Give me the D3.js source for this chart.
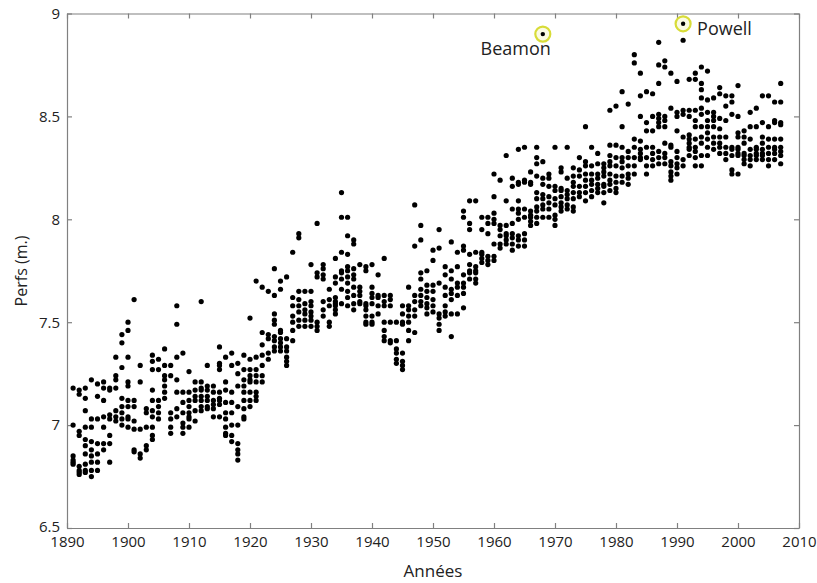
<!DOCTYPE html>
<html>
<head>
<meta charset="utf-8">
<script src="https://cdn.jsdelivr.net/npm/d3@7"></script>
<style>
  body { margin: 0; background: #fff; }
  text { font-family: "Open Sans", sans-serif; fill: #222; }
</style>
</head>
<body>
<svg id="chart"></svg>
<script>
// top performances per year (long jump, m.)
const firstYear = 1891
const perfs = [
  [7.18,7.00,6.85,6.83,6.82,6.81],
  [7.17,7.15,6.97,6.95,6.80,6.78,6.77,6.76],
  [7.18,7.13,7.07,6.99,6.93,6.90,6.86,6.81,6.78,6.77],
  [7.22,7.03,6.99,6.92,6.88,6.85,6.82,6.78,6.75],
  [7.20,7.14,7.03,6.91,6.86,6.82,6.78],
  [7.21,7.18,7.12,7.04,6.99,6.91,6.88],
  [7.18,7.17,7.05,7.03,6.95,6.91,6.82],
  [7.33,7.24,7.22,7.18,7.07,7.04,7.02],
  [7.44,7.40,7.28,7.13,7.09,7.06,7.03,7.00],
  [7.50,7.46,7.33,7.21,7.19,7.12,7.09,7.04,7.03,6.99],
  [7.61,7.12,7.09,7.02,6.98,6.88,6.87],
  [7.29,7.21,6.98,6.86,6.84],
  [7.08,7.06,6.99,6.90,6.88],
  [7.34,7.31,7.27,7.17,7.12,7.07,7.04,6.99,6.95,6.93],
  [7.32,7.27,7.12,7.09,7.06,7.03],
  [7.37,7.29,7.24,7.22,7.19,7.16,7.13],
  [7.29,7.24,7.06,7.03,6.99,6.96],
  [7.58,7.49,7.33,7.22,7.16,7.08,7.04],
  [7.35,7.16,7.11,7.06,7.01,6.99,6.96],
  [7.26,7.16,7.12,7.09,7.06,7.04,7.03,6.99],
  [7.21,7.17,7.14,7.12,7.07,7.02],
  [7.60,7.21,7.18,7.17,7.14,7.12,7.09,7.07],
  [7.29,7.19,7.17,7.14,7.12,7.09,7.08],
  [7.19,7.16,7.12,7.10,7.08,7.04],
  [7.38,7.30,7.29,7.27,7.16,7.13,7.12,7.10,7.04],
  [7.33,7.21,7.17,7.11,7.06,7.03,6.99,6.96,6.95],
  [7.35,7.29,7.16,7.11,7.06,7.00,6.95,6.92],
  [7.30,7.25,7.19,7.09,7.00,6.91,6.88,6.86,6.83],
  [7.34,7.27,7.22,7.19,7.16,7.12,7.08,7.04,7.03],
  [7.52,7.32,7.27,7.24,7.22,7.21,7.16,7.12,7.09],
  [7.70,7.33,7.27,7.24,7.21,7.16,7.14,7.12],
  [7.67,7.45,7.39,7.34,7.29,7.24,7.21],
  [7.65,7.44,7.42,7.35,7.32],
  [7.76,7.63,7.54,7.51,7.49,7.43,7.41,7.38,7.36],
  [7.70,7.66,7.46,7.45,7.42,7.40,7.38,7.36],
  [7.72,7.42,7.38,7.36,7.33,7.31,7.29],
  [7.84,7.62,7.58,7.53,7.50,7.46,7.41],
  [7.93,7.91,7.65,7.61,7.58,7.55,7.51,7.48],
  [7.65,7.59,7.56,7.54,7.51,7.48],
  [7.78,7.65,7.60,7.58,7.55,7.53,7.51,7.48],
  [7.98,7.74,7.72,7.50,7.48,7.46],
  [7.78,7.76,7.73,7.71,7.60,7.56,7.53],
  [7.66,7.61,7.58,7.50,7.48],
  [7.81,7.72,7.69,7.62,7.60,7.59,7.58,7.56,7.54],
  [8.13,8.01,7.84,7.75,7.74,7.71,7.66,7.59],
  [8.01,7.92,7.83,7.77,7.75,7.72,7.69,7.65,7.62,7.58],
  [7.90,7.88,7.76,7.73,7.71,7.67,7.63,7.59,7.56],
  [7.78,7.67,7.65,7.63,7.60,7.59],
  [7.77,7.75,7.59,7.58,7.56,7.53,7.50,7.49],
  [7.78,7.67,7.64,7.62,7.59,7.53,7.50,7.49],
  [7.73,7.63,7.62,7.58,7.54],
  [7.81,7.63,7.60,7.58,7.50,7.46,7.43,7.41],
  [7.63,7.61,7.58,7.50,7.41,7.40],
  [7.50,7.41,7.37,7.35,7.32,7.30],
  [7.58,7.54,7.50,7.49,7.35,7.31,7.29,7.27],
  [7.67,7.58,7.56,7.53,7.50,7.46,7.41],
  [8.07,7.87,7.63,7.60,7.56,7.53,7.45],
  [7.97,7.90,7.74,7.71,7.66,7.63,7.60,7.58],
  [7.75,7.68,7.65,7.62,7.59,7.57,7.54],
  [7.85,7.80,7.68,7.65,7.61,7.58,7.55],
  [7.95,7.86,7.69,7.54,7.52,7.49,7.46],
  [7.77,7.73,7.67,7.63,7.58,7.55,7.53],
  [7.89,7.75,7.71,7.66,7.64,7.61,7.54,7.43],
  [7.84,7.77,7.69,7.67,7.63,7.54],
  [8.04,8.01,7.87,7.85,7.73,7.69,7.67,7.64,7.57],
  [8.09,7.98,7.95,7.83,7.78,7.75,7.74,7.71],
  [8.09,7.84,7.77,7.75,7.74,7.71,7.69],
  [8.01,7.95,7.84,7.83,7.81,7.79],
  [8.01,7.98,7.93,7.82,7.80,7.78],
  [8.22,8.11,8.03,8.00,7.98,7.88,7.82,7.80],
  [8.19,7.97,7.95,7.92,7.88,7.86],
  [8.31,8.09,7.97,7.93,7.92,7.90,7.88],
  [8.20,8.16,8.05,7.98,7.93,7.91,7.88,7.85],
  [8.34,8.18,8.17,8.09,8.05,8.03,8.00,7.92,7.90,7.87],
  [8.35,8.19,8.18,8.05,8.01,7.93,7.90,7.87],
  [8.23,8.18,8.17,8.04,8.02,8.01,7.99,7.97],
  [8.35,8.30,8.27,8.21,8.13,8.10,8.06,8.04,8.01,7.98],
  [8.28,8.20,8.17,8.12,8.10,8.07,8.05,8.01],
  [8.22,8.20,8.16,8.11,8.08,8.05,8.01],
  [8.35,8.16,8.14,8.10,8.07,8.02,8.00,7.97],
  [8.25,8.23,8.15,8.14,8.11,8.08,8.06,8.04],
  [8.35,8.20,8.14,8.12,8.10,8.07,8.05],
  [8.25,8.21,8.18,8.16,8.13,8.10,8.06,8.04],
  [8.30,8.24,8.21,8.16,8.13,8.11],
  [8.45,8.28,8.26,8.22,8.19,8.16,8.13,8.09],
  [8.35,8.26,8.22,8.19,8.17,8.14,8.11],
  [8.32,8.27,8.22,8.20,8.17,8.15,8.13],
  [8.27,8.25,8.23,8.21,8.17,8.16,8.13,8.08],
  [8.53,8.36,8.31,8.28,8.26,8.22,8.19,8.17,8.14],
  [8.55,8.36,8.30,8.26,8.21,8.18,8.15,8.13],
  [8.62,8.45,8.35,8.30,8.28,8.25,8.21,8.18],
  [8.56,8.33,8.30,8.26,8.22,8.20,8.17],
  [8.80,8.76,8.39,8.35,8.30,8.26,8.22],
  [8.71,8.60,8.50,8.38,8.34,8.32,8.30,8.29],
  [8.62,8.47,8.43,8.35,8.30,8.26,8.22],
  [8.61,8.50,8.43,8.35,8.32,8.29,8.26],
  [8.86,8.75,8.66,8.51,8.49,8.47,8.45,8.33,8.30,8.27],
  [8.77,8.74,8.50,8.48,8.45,8.37,8.32,8.30,8.27],
  [8.71,8.54,8.36,8.35,8.28,8.26,8.23,8.21,8.19],
  [8.67,8.52,8.50,8.43,8.33,8.30,8.27,8.25,8.22],
  [8.87,8.53,8.51,8.40,8.29,8.26],
  [8.68,8.53,8.50,8.41,8.39,8.37,8.35,8.34,8.31],
  [8.71,8.68,8.53,8.48,8.45,8.39,8.35,8.33,8.30,8.26],
  [8.74,8.66,8.63,8.59,8.54,8.51,8.45,8.40,8.37,8.31,8.26],
  [8.72,8.58,8.52,8.48,8.45,8.42,8.39,8.35,8.31],
  [8.59,8.52,8.50,8.48,8.45,8.40,8.37,8.34],
  [8.64,8.61,8.49,8.44,8.40,8.37,8.35,8.32],
  [8.60,8.55,8.48,8.40,8.35,8.32,8.29],
  [8.60,8.57,8.51,8.35,8.34,8.31,8.24,8.22],
  [8.65,8.50,8.42,8.40,8.35,8.34,8.32,8.31,8.22],
  [8.43,8.40,8.37,8.32,8.31,8.29,8.27],
  [8.52,8.45,8.39,8.34,8.31,8.29,8.26],
  [8.54,8.45,8.35,8.34,8.32,8.31,8.29],
  [8.60,8.47,8.40,8.37,8.34,8.32,8.31,8.29],
  [8.60,8.45,8.39,8.35,8.32,8.29,8.26],
  [8.57,8.48,8.47,8.39,8.35,8.34,8.32,8.29],
  [8.66,8.57,8.47,8.46,8.39,8.35,8.33,8.31,8.27]
]

// world records shown with a ring
const recordNames = ['Beamon', 'Powell']
const recordYears = [1968, 1991]
const recordPerfs = [8.90, 8.95]

const xTicks = [1890, 1900, 1910, 1920, 1930, 1940, 1950, 1960, 1970, 1980, 1990, 2000, 2010]
const yTicks = [6.5, 7, 7.5, 8, 8.5, 9]

const W = 817, H = 583
const margin = {top: 13.5, right: 18, bottom: 55, left: 67}
const width = W - margin.left - margin.right
const height = H - margin.top - margin.bottom

const svg = d3.select('#chart')
  .attr('width', W)
  .attr('height', H)

const g = svg.append('g')
  .attr('transform', 'translate(' + margin.left + ',' + margin.top + ')')

const x = d3.scaleLinear().domain([1890, 2010]).range([0, width])
const y = d3.scaleLinear().domain([6.5, 9]).range([height, 0])

// flatten year lists into points
const points = []
perfs.forEach((list, i) => {
  list.forEach(v => points.push({year: firstYear + i, perf: v}))
})

const styleAxis = sel => {
  sel.selectAll('path, line').attr('stroke', '#808080').attr('stroke-width', 1.2)
  sel.selectAll('text').style('font-size', '15px').attr('fill', '#222')
}

g.append('g')
  .attr('transform', 'translate(0,' + height + ')')
  .call(d3.axisBottom(x).tickValues(xTicks).tickFormat(d3.format('d')).tickSize(-5).tickSizeOuter(0).tickPadding(8))
  .call(styleAxis)

g.append('g')
  .call(d3.axisTop(x).tickValues(xTicks).tickFormat('').tickSize(-5).tickSizeOuter(0))
  .call(styleAxis)

g.append('g')
  .call(d3.axisLeft(y).tickValues(yTicks).tickFormat(d3.format('')).tickSize(-5).tickSizeOuter(0).tickPadding(7))
  .call(styleAxis)
  // the lowest label sits a little higher, as in the original
  .selectAll('.tick text').filter(d => d === 6.5).attr('dy', '0.2em')

g.append('g')
  .attr('transform', 'translate(' + width + ',0)')
  .call(d3.axisRight(y).tickValues(yTicks).tickFormat('').tickSize(-5).tickSizeOuter(0))
  .call(styleAxis)

// points
g.append('g')
  .selectAll('circle')
  .data(points)
  .enter()
  .append('circle')
  .attr('cx', d => x(d.year))
  .attr('cy', d => y(d.perf))
  .attr('r', 2.6)
  .attr('fill', '#000')

// records
const rec = g.append('g')
  .selectAll('g')
  .data(recordNames.map((n, i) => ({name: n, year: recordYears[i], perf: recordPerfs[i]})))
  .enter()
  .append('g')
  .attr('transform', d => 'translate(' + x(d.year) + ',' + y(d.perf) + ')')

rec.append('circle')
  .attr('r', 7.5)
  .attr('fill', '#fbfbe4')
  .attr('stroke', '#d8dc38')
  .attr('stroke-width', 2.2)

rec.append('circle')
  .attr('r', 2.2)
  .attr('fill', '#000')

rec.append('text')
  .attr('x', (d, i) => i === 0 ? 8 : 14)
  .attr('y', (d, i) => i === 0 ? 21 : 11)
  .attr('text-anchor', (d, i) => i === 0 ? 'end' : 'start')
  .style('font-size', '18px')
  .text(d => d.name)

// axis titles
svg.append('text')
  .attr('x', margin.left + width / 2)
  .attr('y', 577)
  .attr('text-anchor', 'middle')
  .style('font-size', '17px')
  .text('Années')

svg.append('text')
  .attr('transform', 'translate(27,271) rotate(-90)')
  .attr('text-anchor', 'middle')
  .style('font-size', '16px')
  .text('Perfs (m.)')
</script>
</body>
</html>
